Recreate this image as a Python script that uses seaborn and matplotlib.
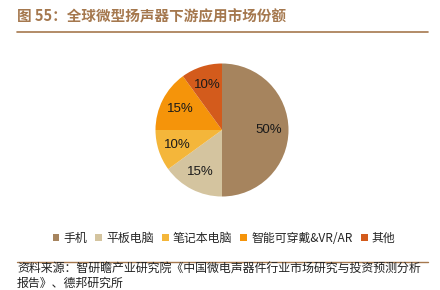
import matplotlib
matplotlib.use("Agg")
import matplotlib.pyplot as plt
import seaborn as sns
import numpy as np
from matplotlib.lines import Line2D
from matplotlib.patches import Patch

sns.set_theme(style="white")
plt.rcParams['font.family'] = ['Noto Sans CJK SC', 'DejaVu Sans']

categories = ["手机", "平板电脑", "笔记本电脑", "智能可穿戴&VR/AR", "其他"]
values = [50, 15, 10, 15, 10]
colors = ["#A6845E", "#D4C49F", "#F4B63A", "#F5940A", "#D35B1C"]

title = "图 55：全球微型扬声器下游应用市场份额"
source = "资料来源：智研瞻产业研究院《中国微电声器件行业市场研究与投资预测分析\n报告》、德邦研究所"

fig = plt.figure(figsize=(4.4, 2.9), dpi=100)
W, H = 440, 290
cx, cy, R = 222, 130, 66.5
ax = fig.add_axes([(cx - R) / W, 1 - (cy + R) / H, 2 * R / W, 2 * R / H])
wedges, texts = ax.pie(values, colors=colors, startangle=90, counterclock=False,
                       wedgeprops=dict(linewidth=0))
ax.set_xlim(-1, 1)
ax.set_ylim(-1, 1)
ax.set_aspect('equal')
cum = 0
total = sum(values)
for v in values:
    mid = 90 - (cum + v / 2) / total * 360
    r = 0.71
    ax.text(r * np.cos(np.radians(mid)), r * np.sin(np.radians(mid)), f"{v}%",
            ha='center', va='center', fontsize=9.5, color='#1a1a1a',
            family=['Liberation Sans', 'DejaVu Sans'])
    cum += v

fig.text(17 / W, 1 - 16 / H, title, fontsize=10.5, fontweight='bold', color='#A5784E',
         va='center', ha='left')
fig.add_artist(Line2D([17 / W, 428 / W], [1 - 32 / H, 1 - 32 / H], color='#A5784E', lw=1.2))
fig.add_artist(Line2D([17 / W, 428 / W], [1 - 262 / H, 1 - 262 / H], color='#A5784E', lw=1.0))

handles = [Patch(facecolor=c, edgecolor='none') for c in colors]
fig.legend(handles, categories, loc='center', bbox_to_anchor=(224 / W, 1 - 238 / H), ncol=5,
           frameon=False, fontsize=8.6, handlelength=0.55, handleheight=0.55, handletextpad=0.35,
           columnspacing=0.7, borderpad=0, borderaxespad=0)

fig.text(17 / W, 1 - 263 / H, source, fontsize=8.6, color='#222222', va='top', ha='left',
         linespacing=1.1)

fig.savefig("out.png", dpi=100)
